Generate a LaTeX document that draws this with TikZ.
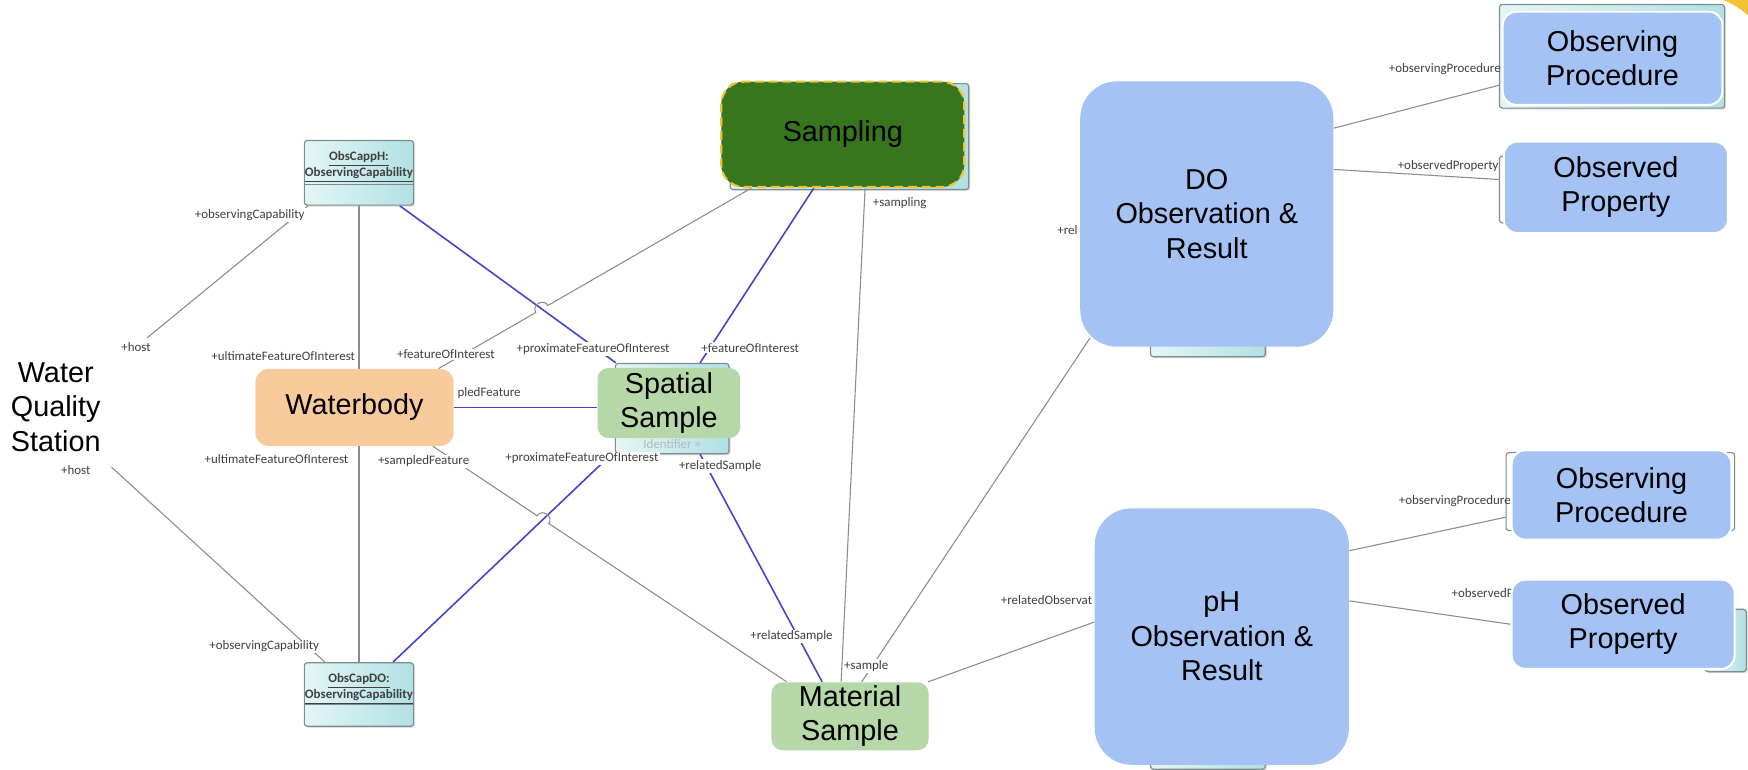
\documentclass[tikz,border=0pt]{standalone}
\usepackage{fontspec}
\setmainfont{Liberation Sans}
\newfontfamily\lblfont{Carlito}
\usetikzlibrary{calc,shadows}
\definecolor{cBlue}{HTML}{A4C2F4}
\definecolor{cGreenL}{HTML}{B6D7A8}
\definecolor{cPeach}{HTML}{F9CB9C}
\definecolor{cGreenD}{HTML}{38761D}
\definecolor{cYellow}{HTML}{F1C232}
\definecolor{cUmlA}{HTML}{E4F6F6}
\definecolor{cUmlB}{HTML}{B2E0E3}
\definecolor{cUmlBorder}{HTML}{7D8C8C}
\definecolor{cGreyLine}{HTML}{8C8C8C}
\definecolor{cBlueLine}{HTML}{4242CC}
\definecolor{cLbl}{HTML}{3F3F3F}
\pgfdeclarelayer{bg}
\pgfdeclarelayer{lines}
\pgfsetlayers{bg,lines,main}
\tikzset{
  bigfont/.style={font=\fontsize{14.7}{17.6}\selectfont, align=center, text=black},
  bigbox/.style={bigfont, rectangle, inner sep=0pt},
  umlbox/.style={rectangle, draw=cUmlBorder, line width=0.6pt, left color=cUmlA, right color=cUmlB, rounded corners=1.5pt, inner sep=0pt, drop shadow={opacity=0.25, shadow xshift=0.8pt, shadow yshift=-0.8pt}},
  bracketbox/.style={rectangle, draw=cUmlBorder, line width=0.6pt, rounded corners=1.5pt, inner sep=0pt},
  umltext/.style={font=\lblfont\bfseries\fontsize{6.6}{8}\selectfont, align=center, text=cLbl, inner sep=0pt},
  gline/.style={draw=cGreyLine, line width=0.55pt},
  bline/.style={draw=cBlueLine, line width=0.8pt},
  lbl/.style={font=\lblfont\fontsize{6.6}{7.5}\selectfont, text=cLbl, inner sep=0.6pt},
  lblw/.style={lbl, fill=white},
}
\begin{document}
\begin{tikzpicture}[x=0.2mm,y=-0.2mm]
\useasboundingbox (0,0) rectangle (1568,690);
\fill[cYellow] (1546,0) .. controls (1555,4) and (1562,8) .. (1568,14) -- (1568,0) -- cycle;

% ---------- main nodes ----------
\node[bigfont] (station) at (50,365) {Water\\Quality\\Station};
\node[bigbox, fill=cPeach, rounded corners=2.4mm, minimum width=35.6mm, minimum height=13.8mm] (waterbody) at (318,365.5) {Waterbody};
\node[bigbox, fill=cGreenL, rounded corners=2mm, minimum width=25.6mm, minimum height=12.6mm] (spatial) at (600,361.5) {Spatial\\Sample};
\node[bigbox, fill=cGreenD, draw=cYellow, line width=1.1pt, dash pattern=on 4.5pt off 2.5pt, rounded corners=4mm, minimum width=43.6mm, minimum height=18.9mm] (sampling) at (756,120.5) {Sampling};
\node[bigbox, fill=cGreenL, rounded corners=2mm, minimum width=28.2mm, minimum height=12.2mm] (material) at (762.5,642.5) {Material\\Sample};
\node[bigbox, fill=cBlue, rounded corners=6.6mm, minimum width=45.4mm, minimum height=47.6mm] (do) at (1082.5,192) {DO\\Observation \&\\Result};
\node[bigbox, fill=cBlue, rounded corners=6.6mm, minimum width=45.6mm, minimum height=46mm] (ph) at (1096,571) {pH\\Observation \&\\Result};
\node[bigbox, fill=cBlue, draw=white, line width=1pt, rounded corners=2.4mm, minimum width=39.4mm, minimum height=16.7mm] (proc1) at (1446.5,52.3) {Observing\\Procedure};
\node[bigbox, fill=cBlue, draw=white, line width=1pt, rounded corners=2.4mm, minimum width=40.2mm, minimum height=16.4mm] (prop1) at (1449.5,168) {Observed\\Property};
\node[bigbox, fill=cBlue, draw=white, line width=1pt, rounded corners=2.4mm, minimum width=39.4mm, minimum height=16mm] (proc2) at (1454.5,444) {Observing\\Procedure};
\node[bigbox, fill=cBlue, draw=white, line width=1pt, rounded corners=2.4mm, minimum width=40mm, minimum height=16mm] (prop2) at (1456,560) {Observed\\Property};

% UML instance boxes
\node[umlbox, minimum width=19.6mm, minimum height=11.6mm] (obscapph) at (322,155) {};
\node[umltext] (obscapphT) at (322,150) {\underline{ObsCappH:}\\\underline{ObservingCapability}};
\draw[cUmlBorder, line width=0.5pt] ($(obscapph.north west)+(0,40)$) -- ($(obscapph.north east)+(0,40)$);
\node[umlbox, minimum width=19.6mm, minimum height=11.4mm] (obscapdo) at (322,623) {};
\node[umltext] (obscapdoT) at (322,618) {\underline{ObsCapDO:}\\\underline{ObservingCapability}};
\draw[cUmlBorder, line width=0.5pt] ($(obscapdo.north west)+(0,38)$) -- ($(obscapdo.north east)+(0,38)$);

% ---------- boxes partly hidden behind ----------
\begin{pgfonlayer}{bg}
\node[umlbox, minimum width=20.4mm, minimum height=16.2mm] (spuml) at (603,366.5) {};
\node[lbl, text=cUmlBorder!60] (spumlT) at (603,398) {Identifier =};
\node[umlbox, minimum width=42.8mm, minimum height=19mm] (sampuml) at (762,122.5) {};
\node[umlbox, minimum width=20.6mm, minimum height=14mm] (douml) at (1083.5,285) {};
\node[umlbox, minimum width=20.6mm, minimum height=10mm] (phuml) at (1083.5,665) {};
\node[umlbox, minimum width=40.4mm, minimum height=18.6mm] (proc1uml) at (1446,50.5) {};
\node[bracketbox, minimum width=40mm, minimum height=12mm] (prop1uml) at (1445,170) {};
\node[bracketbox, minimum width=41mm, minimum height=14mm] (proc2uml) at (1453.5,441) {};
\node[umlbox, minimum width=7.4mm, minimum height=11.2mm] (prop2uml) at (1548,574.5) {};
\end{pgfonlayer}

% ---------- connectors ----------
\begin{pgfonlayer}{lines}
\coordinate (hostA) at (132,303);
\coordinate (hostB) at (100,419);
% ObsCappH
\draw[gline] ($(obscapph.south west)+(4,0)$) -- (hostA);
\draw[gline] (obscapph.south) -- (obscapph.south |- waterbody.north);
\coordinate (c3s) at ($(obscapph.south east)+(-13,0)$);
\coordinate (c3e) at ($(spuml.north west)+(1,0)$);
\draw[bline] (c3s) -- (c3e);
% Sampling
\coordinate (c4s) at ($(sampling.south west)+(28,0)$);
\coordinate (c4e) at ($(waterbody.north east)+(-14,0)$);
\coordinate (h4) at (intersection of c3s--c3e and c4s--c4e);
\draw[gline] (c4s) -- ($(h4)!3.6pt!(c4s)$) to[bend right=90, looseness=1.6] ($(h4)!3.6pt!(c4e)$) -- (c4e);
\draw[bline] ($(sampling.south)+(-26,0)$) -- ($(spuml.north)+(25,0)$);
\draw[gline] ($(sampling.south)+(20,0)$) -- ($(material.north)+(-8,0)$);
% Waterbody
\draw[bline] (waterbody.east) -- (waterbody.east -| spatial.west);
\draw[gline] (obscapdo.north |- waterbody.south) -- (obscapdo.north);
\draw[gline] (hostB) -- ($(obscapdo.north west)+(19,0)$);
\coordinate (c10s) at ($(waterbody.south east)+(-19,0)$);
\coordinate (c10e) at ($(material.north west)+(14,0)$);
\coordinate (c11s) at ($(spuml.south west)+(-3,0)$);
\coordinate (c11e) at ($(obscapdo.north east)+(-19,0)$);
\coordinate (h10) at (intersection of c10s--c10e and c11s--c11e);
\draw[bline] (c11s) -- (c11e);
\draw[gline] (c10s) -- ($(h10)!3.6pt!(c10s)$) to[bend left=90, looseness=1.6] ($(h10)!3.6pt!(c10e)$) -- (c10e);
\draw[bline] ($(spuml.south)+(25,0)$) -- ($(material.north)+(-25,0)$);
% Material sample
\draw[gline] ($(material.north east)+(-1,0)$) -- ($(ph.west)+(0,-13)$);
\draw[gline] ($(material.north)+(10.5,0)$) -- ($(do.south west)+(9,-8)$);
% observations
\draw[gline] ($(do.east)+(0,-77)$) -- ($(proc1uml.south west)+(0,-21)$);
\draw[gline] ($(do.east)+(0,-40)$) -- ($(prop1uml.west)+(0,-9)$);
\draw[gline] ($(ph.east)+(0,-77)$) -- ($(proc2uml.west)+(0,23)$);
\draw[gline] ($(ph.east)+(0,-32)$) -- (prop2.west);

% ---------- role labels ----------
\node[lblw] (l1) at (224,193) {+observingCapability};
\node[lbl] (l2) at (122,311) {+host};
\node[lbl] (l3) at (254,319) {+ultimateFeatureOfInterest};
\node[lblw] (l4) at (400,318) {+featureOfInterest};
\node[lblw] (l5) at (532,313) {+proximateFeatureOfInterest};
\node[lblw] (l6) at (673,312) {+featureOfInterest};
\node[lbl] (l7) at (807,182) {+sampling};
\node[lbl, anchor=west] (l8) at (409,353) {pledFeature};
\node[lbl] (l9) at (248,412) {+ultimateFeatureOfInterest};
\node[lblw] (l10) at (380,414) {+sampledFeature};
\node[lblw] (l11) at (522,411) {+proximateFeatureOfInterest};
\node[lbl] (l12) at (68,421.5) {+host};
\node[lblw] (l13) at (237,580) {+observingCapability};
\node[lblw] (l14) at (646,418) {+relatedSample};
\node[lblw] (l15) at (710,571) {+relatedSample};
\node[lblw] (l16) at (777,597.5) {+sample};
\node[lbl, anchor=east] (l17) at (981,538) {+relatedObservat};
\node[lbl, anchor=east] (l18) at (968,206) {+rel};
\node[lbl] (l19) at (1296,62) {+observingProcedure};
\node[lbl] (l20) at (1299,149) {+observedProperty};
\node[lbl] (l21) at (1305,449.5) {+observingProcedure};
\node[lbl, anchor=east] (l22) at (1359,532) {+observedP};
\end{pgfonlayer}
\end{tikzpicture}
\end{document}
